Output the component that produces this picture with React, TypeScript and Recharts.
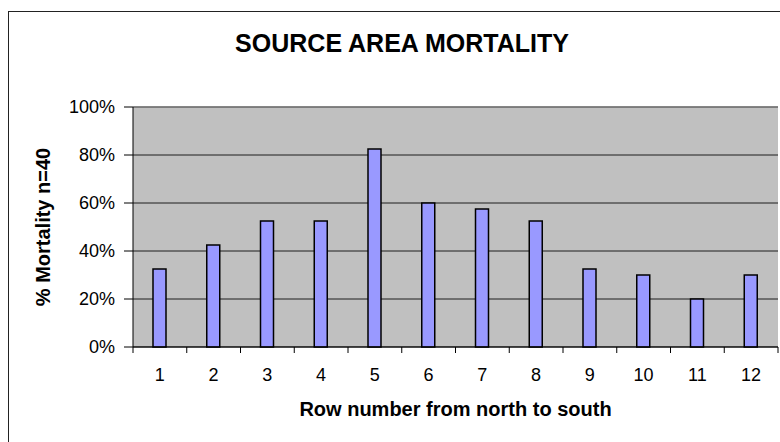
import React from 'react';
import {
  BarChart,
  Bar,
  XAxis,
  YAxis,
  CartesianGrid,
  ReferenceLine,
} from 'recharts';

// rows 1..12, share of 40 trees dead in each row
const rows = ['1', '2', '3', '4', '5', '6', '7', '8', '9', '10', '11', '12'];
const mortality = [0.325, 0.425, 0.525, 0.525, 0.825, 0.6, 0.575, 0.525, 0.325, 0.3, 0.2, 0.3];
const yTicks = [0, 0.2, 0.4, 0.6, 0.8, 1];

const FONT = '"Liberation Sans", Arial, sans-serif';
const LABEL_GAP = 21;

// category label plus a tick mark on the band edges (spreadsheet style)
function RowTick(props: any) {
  const { x, y, payload, index, visibleTicksCount } = props;
  const half = payload.offset || 0;
  const axisY = y - LABEL_GAP;
  const isLast = index === visibleTicksCount - 1;
  return (
    <g>
      <line x1={x - half} x2={x - half} y1={axisY} y2={axisY + 6} stroke="#000" />
      {isLast && <line x1={x + half} x2={x + half} y1={axisY} y2={axisY + 6} stroke="#000" />}
      <text
        x={x}
        y={y}
        dy="0.71em"
        textAnchor="middle"
        fill="#000"
        fontSize={18}
        fontFamily={FONT}
      >
        {payload.value}
      </text>
    </g>
  );
}

export default function App() {
  const chartData = rows.map((row, i) => ({ row, value: mortality[i] }));

  return (
    <div
      style={{
        position: 'absolute',
        left: 0,
        top: 0,
        width: 780,
        height: 442,
        overflow: 'hidden',
        background: '#fff',
        fontFamily: FONT,
      }}
    >
      <div
        style={{
          position: 'absolute',
          left: 8,
          top: 11,
          width: 820,
          height: 520,
          border: '1px solid #222',
        }}
      />
      <div
        style={{
          position: 'absolute',
          left: 0,
          top: 28,
          width: 804,
          lineHeight: '30px',
          textAlign: 'center',
          fontSize: 25,
          fontWeight: 'bold',
          color: '#000',
        }}
      >
        SOURCE AREA MORTALITY
      </div>
      <div style={{ position: 'absolute', left: 0, top: 0 }}>
        <BarChart
          width={780}
          height={442}
          data={chartData}
          margin={{ top: 107, right: 2, bottom: 94, left: 0 }}
        >
          <CartesianGrid
            vertical={false}
            stroke="#000"
            strokeOpacity={0.85}
            fill="#c0c0c0"
            fillOpacity={1}
          />
          <ReferenceLine y={1} stroke="#808080" strokeWidth={1.5} />
          <XAxis
            dataKey="row"
            height={1}
            stroke="#000"
            tickLine={false}
            tickSize={0}
            tickMargin={LABEL_GAP}
            interval={0}
            tick={<RowTick />}
            label={{
              value: 'Row number from north to south',
              position: 'bottom',
              offset: 54,
              fill: '#000',
              fontSize: 20,
              fontWeight: 'bold',
              fontFamily: FONT,
            }}
          />
          <YAxis
            width={133}
            domain={[0, 1]}
            ticks={yTicks}
            tickSize={9}
            tickMargin={9}
            stroke="#000"
            tickFormatter={(v) => `${Math.round(v * 100)}%`}
            tick={{ fill: '#000', fontSize: 18, fontFamily: FONT }}
            label={{
              value: '% Mortality n=40',
              angle: -90,
              position: 'center',
              dx: -24,
              fill: '#000',
              fontSize: 20,
              fontWeight: 'bold',
              fontFamily: FONT,
            }}
          />
          <Bar
            dataKey="value"
            fill="#9999ff"
            stroke="#000"
            strokeWidth={1.5}
            barSize={13}
            isAnimationActive={false}
          />
        </BarChart>
      </div>
    </div>
  );
}
